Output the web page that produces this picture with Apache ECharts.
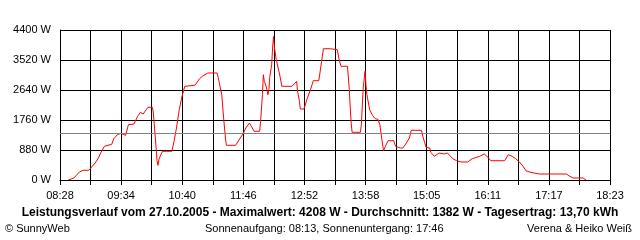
<!DOCTYPE html>
<html>
<head>
<meta charset="utf-8">
<script src="https://cdn.jsdelivr.net/npm/echarts@6/dist/echarts.min.js"></script>
<style>
html,body{margin:0;padding:0;background:#fff;}
#c{width:640px;height:240px;}
</style>
</head>
<body>
<div id="c"></div>
<script>
// Data
const times = ["08:37","08:43","08:49","08:53","08:59","09:02","09:06","09:09","09:12","09:16","09:18","09:24","09:26","09:30","09:34","09:36","09:39","09:42","09:48","09:52","09:55","09:58","10:03","10:08","10:09","10:10","10:12","10:13","10:14","10:15","10:17","10:19","10:29","10:31","10:34","10:37","10:40","10:43","10:44","10:54","10:59","11:02","11:08","11:18","11:20","11:23","11:25","11:27","11:28","11:38","11:43","11:46","11:49","11:53","11:55","11:58","12:04","12:05","12:07","12:08","12:09","12:11","12:13","12:14","12:15","12:17","12:18","12:19","12:20","12:22","12:24","12:26","12:28","12:39","12:44","12:45","12:47","12:48","12:52","12:55","12:59","13:02","13:08","13:11","13:13","13:20","13:28","13:30","13:32","13:39","13:41","13:42","13:43","13:44","13:53","13:54","13:56","13:58","13:59","14:00","14:03","14:06","14:09","14:12","14:14","14:16","14:18","14:20","14:23","14:29","14:31","14:36","14:39","14:42","14:46","14:48","14:59","15:01","15:04","15:08","15:09","15:13","15:18","15:24","15:27","15:33","15:37","15:42","15:49","15:54","16:02","16:07","16:11","16:14","16:29","16:33","16:37","16:41","16:45","16:49","16:52","16:56","17:02","17:07","17:36","17:39","17:43","17:54","17:57"];
const watts = [0,59,235,285,285,373,499,616,792,989,1047,1047,1203,1329,1370,1329,1311,1622,1643,1868,1986,1936,2133,2133,1965,1622,939,566,431,595,742,842,842,1085,1525,2062,2455,2749,2778,2778,2971,3042,3139,3139,2895,2502,1819,1232,1018,1018,1232,1349,1525,1672,1575,1429,1429,1722,2502,3089,2895,2749,2502,2650,3042,3382,3872,4208,3872,3529,3285,3042,2749,2749,2895,2602,2309,2083,2083,2355,2649,2913,2913,3482,3851,3851,3822,3529,3335,3335,2649,2112,1672,1399,1399,1622,2699,3188,2795,2502,2062,1898,1798,1780,1622,1232,859,989,1153,1153,989,939,939,1056,1232,1458,1458,1232,959,939,813,695,792,763,792,625,566,528,528,625,695,763,666,566,566,742,695,625,528,402,273,235,197,176,176,117,59,59,0];
const average = 1382;
const tickLabels = ["08:28","09:34","10:40","11:46","12:52","13:58","15:05","16:11","17:17","18:23"];
const yMax = 4400, yStep = 880;
const titleText = "Leistungsverlauf vom 27.10.2005 - Maximalwert: 4208 W - Durchschnitt: 1382 W - Tagesertrag: 13,70 kWh";
const leftText = "\u00A9 SunnyWeb";
const midText = "Sonnenaufgang: 08:13, Sonnenuntergang: 17:46";
const rightText = "Verena & Heiko Wei\u00DF";

function toMin(t){const p=t.split(':');return (+p[0])*60+(+p[1]);}
const start = toMin(tickLabels[0]);
const end = toMin(tickLabels[tickLabels.length-1]);
const span = end - start;
const xInterval = span / ((tickLabels.length-1)*2);
const seriesData = times.map((t,i)=>[toMin(t)-start, watts[i]]);

const chart = echarts.init(document.getElementById('c'), null, {renderer:'canvas'});
const font = 'Liberation Sans, Arial, sans-serif';
chart.setOption({
  animation:false,
  backgroundColor:'#fff',
  textStyle:{fontFamily:font},
  grid:{left:60,right:30,top:30,bottom:60,containLabel:false},
  xAxis:{
    type:'value',min:0,max:span,interval:xInterval,
    axisLine:{show:true,lineStyle:{color:'#000',width:1}},
    axisTick:{show:true,length:5,lineStyle:{color:'#000',width:1}},
    splitLine:{show:true,lineStyle:{color:'#000',width:1}},
    axisLabel:{color:'#000',fontSize:11,fontFamily:font,margin:10,showMinLabel:true,showMaxLabel:true,
      formatter:function(v){const k=Math.round(v/xInterval);return k%2===0?(tickLabels[k/2]||''):'';}}
  },
  yAxis:{
    type:'value',min:0,max:yMax,interval:yStep,
    axisLine:{show:true,lineStyle:{color:'#000',width:1}},
    axisTick:{show:false},
    splitLine:{show:true,lineStyle:{color:'#000',width:1}},
    axisLabel:{color:'#000',fontSize:11,fontFamily:font,margin:9,formatter:function(v){return String(Math.round(v))+' W';}}
  },
  series:[{
    type:'line',data:seriesData,symbol:'none',
    lineStyle:{color:'#ff0000',width:1},
    markLine:{silent:true,symbol:'none',label:{show:false},
      lineStyle:{color:'#808080',width:1,type:'solid'},
      data:[{yAxis:average}]}
  }],
  title:[
    {text:titleText,left:'center',top:207,padding:0,textStyle:{fontSize:12,fontWeight:'bold',color:'#000',fontFamily:font}},
    {text:leftText,left:5,top:223,padding:0,textStyle:{fontSize:11,fontWeight:'normal',color:'#000',fontFamily:font}},
    {text:midText,left:205,top:223,padding:0,textStyle:{fontSize:11,fontWeight:'normal',color:'#000',fontFamily:font}},
    {text:rightText,right:8,top:223,padding:0,textStyle:{fontSize:11,fontWeight:'normal',color:'#000',fontFamily:font}}
  ]
});
</script>
</body>
</html>
